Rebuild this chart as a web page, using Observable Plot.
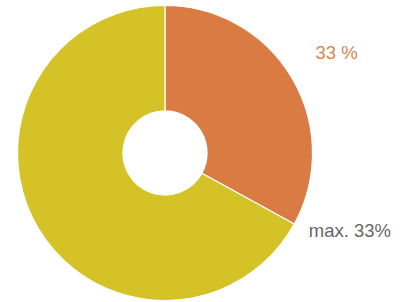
<!DOCTYPE html>
<html>
<head>
<meta charset="utf-8">
<script src="https://cdn.jsdelivr.net/npm/d3@7"></script>
<script src="https://cdn.jsdelivr.net/npm/@observablehq/plot@0.6"></script>
<style>
  html, body { margin: 0; padding: 0; background: #fff; }
  #chart { width: 402px; height: 302px; }
</style>
</head>
<body>
<div id="chart"></div>
<script>
const categories = ["used", "rest"];
const values = [33, 67];
const colors = ["#d97b43", "#d5c226"];
const labels = ["33 %", "max. 33%"];
const labelColors = ["#d98550", "#666666"];

const data = categories.map((c, i) => ({category: c, value: values[i]}));
const pie = d3.pie().sort(null).value(d => d.value)(data);

const pieMark = (index, scales, vals, dims) => {
  const cx = scales.x(0), cy = scales.y(0);
  const R = Math.abs(scales.x(1) - scales.x(0));
  const arc = d3.arc().innerRadius(R * 0.285).outerRadius(R);
  const g = d3.create("svg:g").attr("transform", `translate(${cx},${cy})`);
  g.selectAll("path").data(pie).join("path")
    .attr("d", arc)
    .attr("fill", d => scales.color(d.data.category))
    .attr("stroke", "#fff")
    .attr("stroke-width", 1.2);
  return g.node();
};

const labelData = [
  {text: labels[0], color: labelColors[0], x: 1.16, y: 0.68},
  {text: labels[1], color: labelColors[1], x: 1.25, y: -0.53}
];

const chart = Plot.plot({
  width: 402,
  height: 302,
  margin: 0,
  x: {domain: [-1, 1], range: [17.5, 312.5], axis: null},
  y: {domain: [-1, 1], range: [300, 6], axis: null},
  color: {domain: categories, range: colors},
  style: {background: "#fff", fontFamily: "Liberation Sans, Arial, sans-serif"},
  marks: [
    Plot.dot(data, {x: 0, y: 0, r: 0, fill: "category"}),
    pieMark,
    Plot.text(labelData, {x: "x", y: "y", text: "text", fill: "color", fontSize: 18.5, textAnchor: "middle"})
  ]
});
document.getElementById("chart").appendChild(chart);
</script>
</body>
</html>
